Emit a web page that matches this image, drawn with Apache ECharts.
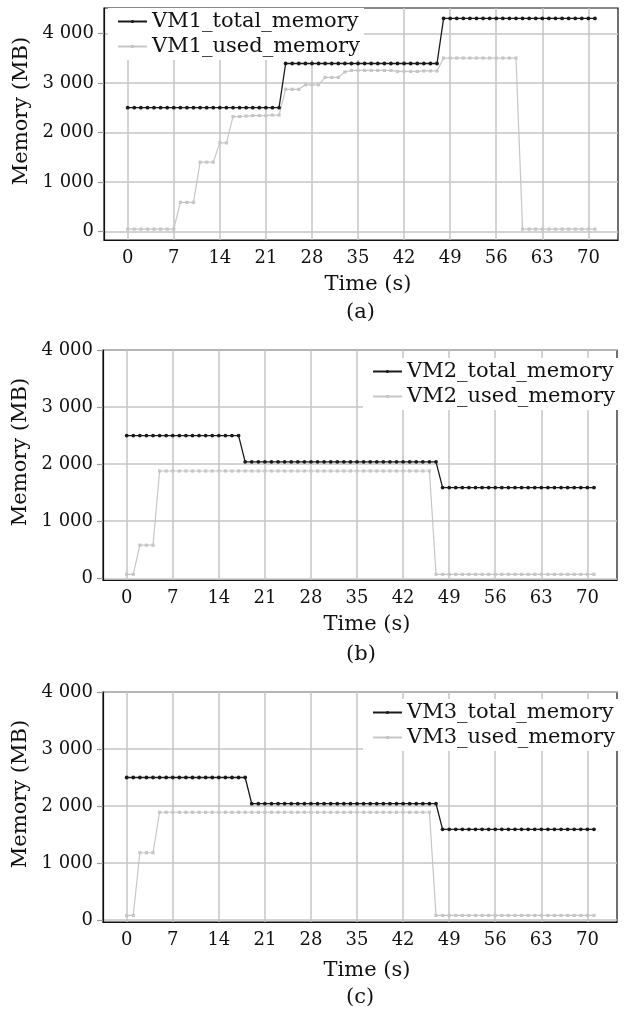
<!DOCTYPE html>
<html>
<head>
<meta charset="utf-8">
<script src="https://cdn.jsdelivr.net/npm/echarts@6/dist/echarts.min.js"></script>
<style>
html,body{margin:0;padding:0;background:#fff;}
#chart{width:625px;height:1012px;}
</style>
</head>
<body>
<div id="chart"></div>
<script>
// ---------------- DATA ----------------
const time = [0,1,2,3,4,5,6,7,8,9,10,11,12,13,14,15,16,17,18,19,20,21,22,23,24,25,26,27,28,29,30,31,32,33,34,35,36,37,38,39,40,41,42,43,44,45,46,47,48,49,50,51,52,53,54,55,56,57,58,59,60,61,62,63,64,65,66,67,68,69,70,71];

const vm1Total = [2500,2500,2500,2500,2500,2500,2500,2500,2500,2500,2500,2500,2500,2500,2500,2500,2500,2500,2500,2500,2500,2500,2500,2500,
  3390,3390,3390,3390,3390,3390,3390,3390,3390,3390,3390,3390,3390,3390,3390,3390,3390,3390,3390,3390,3390,3390,3390,3390,
  4300,4300,4300,4300,4300,4300,4300,4300,4300,4300,4300,4300,4300,4300,4300,4300,4300,4300,4300,4300,4300,4300,4300,4300];
const vm1Used = [50,50,50,50,50,50,50,50,
  590,590,590,
  1400,1400,1400,
  1790,1790,
  2320,2320,2330,2340,2340,2340,2350,2350,
  2870,2870,2870,
  2960,2960,2960,
  3110,3110,3110,
  3220,3250,3250,3250,3250,3250,3250,3250,3230,3230,3230,3230,3240,3240,3240,
  3500,3500,3500,3500,3500,3500,3500,3500,3500,3500,3500,3500,
  50,50,50,50,50,50,50,50,50,50,50,50];

const vm2Total = [2500,2500,2500,2500,2500,2500,2500,2500,2500,2500,2500,2500,2500,2500,2500,2500,2500,2500,
  2040,2040,2040,2040,2040,2040,2040,2040,2040,2040,2040,2040,2040,2040,2040,2040,2040,2040,2040,2040,2040,2040,2040,2040,2040,2040,2040,2040,2040,2040,
  1590,1590,1590,1590,1590,1590,1590,1590,1590,1590,1590,1590,1590,1590,1590,1590,1590,1590,1590,1590,1590,1590,1590,1590];
const vm2Used = [70,70,
  580,580,580,
  1880,1880,1880,1880,1880,1880,1880,1880,1880,1880,1880,1880,1880,1880,1880,1880,1880,1880,1880,1880,1880,1880,1880,1880,1880,1880,1880,1880,1880,1880,1880,1880,1880,1880,1880,1880,1880,1880,1880,1880,1880,1880,
  70,70,70,70,70,70,70,70,70,70,70,70,70,70,70,70,70,70,70,70,70,70,70,70,70];

const vm3Total = [2500,2500,2500,2500,2500,2500,2500,2500,2500,2500,2500,2500,2500,2500,2500,2500,2500,2500,2500,
  2040,2040,2040,2040,2040,2040,2040,2040,2040,2040,2040,2040,2040,2040,2040,2040,2040,2040,2040,2040,2040,2040,2040,2040,2040,2040,2040,2040,2040,
  1590,1590,1590,1590,1590,1590,1590,1590,1590,1590,1590,1590,1590,1590,1590,1590,1590,1590,1590,1590,1590,1590,1590,1590];
const vm3Used = [80,80,
  1180,1180,1180,
  1890,1890,1890,1890,1890,1890,1890,1890,1890,1890,1890,1890,1890,1890,1890,1890,1890,1890,1890,1890,1890,1890,1890,1890,1890,1890,1890,1890,1890,1890,1890,1890,1890,1890,1890,1890,1890,1890,1890,1890,1890,1890,
  80,80,80,80,80,80,80,80,80,80,80,80,80,80,80,80,80,80,80,80,80,80,80,80,80];

const xTickValues = [0,7,14,21,28,35,42,49,56,63,70];
const xTickLabels = ['0','7','14','21','28','35','42','49','56','63','70'];
const yTickValues = [0,1000,2000,3000,4000];
const yTickLabels = ['0','1 000','2 000','3 000','4 000'];

const panels = [
  {total:'VM1_total_memory', used:'VM1_used_memory', totalData:vm1Total, usedData:vm1Used, caption:'(a)'},
  {total:'VM2_total_memory', used:'VM2_used_memory', totalData:vm2Total, usedData:vm2Used, caption:'(b)'},
  {total:'VM3_total_memory', used:'VM3_used_memory', totalData:vm3Total, usedData:vm3Used, caption:'(c)'}
];

// ---------------- LAYOUT ----------------
const FONT = 'DejaVu Serif';
const grids = [
  {left:104, top:8,   right:7, height:232},
  {left:103, top:350, right:8, height:230},
  {left:103, top:692, right:8, height:230}
];
const yRanges = [[-170, 4510], [-30, 4000], [-35, 4000]];
const xRange = [-3.6, 74.5];
const legendPos = [
  {left:108, top:8},
  {right:6, top:358},
  {right:6, top:699}
];
const captionY = [314, 656, 999];
const xNameGap = [34, 34, 38];

const zip = (xs, ys) => xs.map((x, i) => [x, ys[i]]);

const option = {
  backgroundColor:'#fff',
  animation:false,
  textStyle:{fontFamily:FONT, color:'#111'},
  grid: grids.map(g => Object.assign({show:true, borderColor:'#111', borderWidth:1.2, backgroundColor:'transparent', containLabel:false}, g)),
  xAxis: grids.map((g, i) => ({
    type:'value', gridIndex:i, min:xRange[0], max:xRange[1],
    name:'Time (s)', nameLocation:'middle', nameGap:xNameGap[i],
    nameTextStyle:{fontFamily:FONT, fontSize:21, color:'#111', padding:[0,0,0,14]},
    axisLine:{show:true, onZero:false, lineStyle:{color:'#111', width:1.2}},
    axisTick:{show:false, customValues:xTickValues},
    axisLabel:{customValues:xTickValues, fontFamily:FONT, fontSize:18, color:'#111', margin:9,
      formatter:(v)=>{const k = xTickValues.indexOf(v); return k>=0 ? xTickLabels[k] : '';}},
    splitLine:{show:true, lineStyle:{color:'#c4c4c4', width:1.5}}
  })),
  yAxis: grids.map((g, i) => ({
    type:'value', gridIndex:i, min:yRanges[i][0], max:yRanges[i][1],
    name:'Memory (MB)', nameLocation:'middle', nameGap:67, nameRotate:90,
    nameTextStyle:{fontFamily:FONT, fontSize:21, color:'#111', padding:[0,0,0,26]},
    axisLine:{show:true, onZero:false, lineStyle:{color:'#111', width:1.2}},
    axisTick:{show:true, inside:false, length:6, customValues:yTickValues, lineStyle:{color:'#999', width:1.2}},
    axisLabel:{customValues:yTickValues, fontFamily:FONT, fontSize:18, color:'#111', margin:10,
      formatter:(v)=>{const k = yTickValues.indexOf(v); return k>=0 ? yTickLabels[k] : '';}},
    splitLine:{show:true, lineStyle:{color:'#c4c4c4', width:1.5}}
  })),
  legend: panels.map((p, i) => Object.assign({
    orient:'vertical', data:[p.total, p.used],
    backgroundColor:'#fff', padding:[3,4,3,9],
    itemWidth:29, itemHeight:4, itemGap:4,
    textStyle:{fontFamily:FONT, fontSize:21, color:'#111', lineHeight:21},
    selectedMode:false
  }, legendPos[i])),
  series: [],
  graphic: panels.map((p, i) => ({
    type:'text', left:361 - 15, top:captionY[i] - 12,
    style:{text:p.caption, fontFamily:FONT, fontSize:21, fill:'#111'}
  }))
};

panels.forEach((p, i) => {
  option.series.push({
    name:p.used, type:'line', xAxisIndex:i, yAxisIndex:i,
    data:zip(time, p.usedData),
    symbol:'rect', symbolSize:3.2, showSymbol:true,
    lineStyle:{color:'#c6c6c6', width:1.2},
    itemStyle:{color:'#c6c6c6'},
    z:3
  });
  option.series.push({
    name:p.total, type:'line', xAxisIndex:i, yAxisIndex:i,
    data:zip(time, p.totalData),
    symbol:'circle', symbolSize:3.8, showSymbol:true,
    lineStyle:{color:'#1a1a1a', width:1.3},
    itemStyle:{color:'#1a1a1a'},
    z:4
  });
});

const chart = echarts.init(document.getElementById('chart'), null, {renderer:'canvas'});
chart.setOption(option);
</script>
</body>
</html>
